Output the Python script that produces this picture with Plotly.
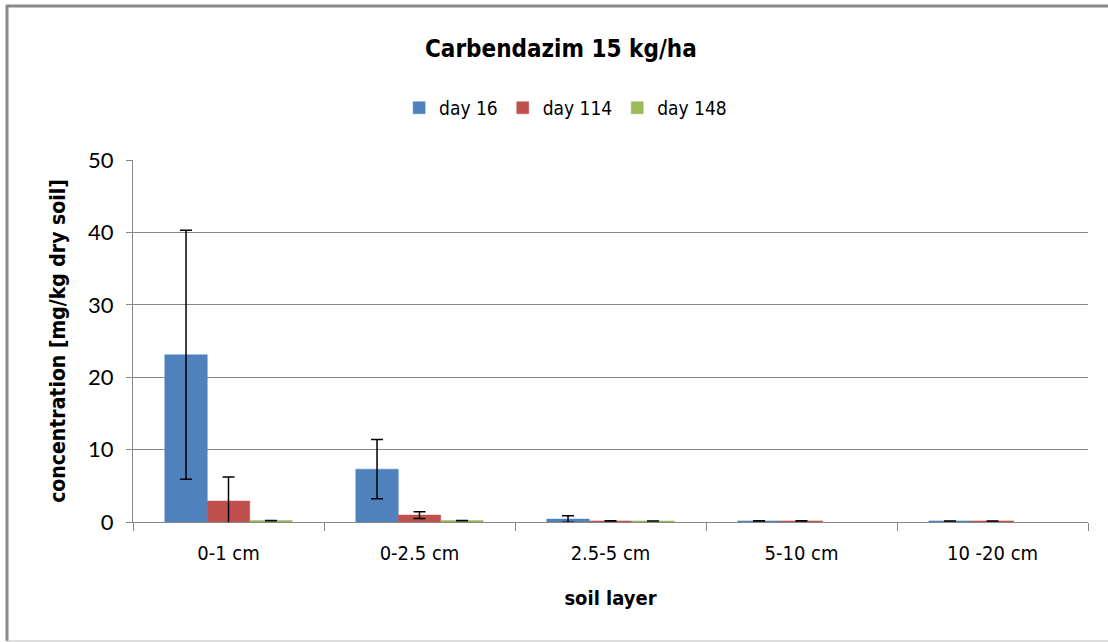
import plotly.graph_objects as go

# Soil layers sampled
layers = ["0-1 cm", "0-2.5 cm", "2.5-5 cm", "5-10 cm", "10 -20 cm"]

# Mean concentration [mg/kg dry soil] and standard deviation per sampling day
day16 = [23.1, 7.3, 0.4, 0.15, 0.15]
day16_sd = [17.2, 4.1, 0.45, 0.02, 0.0]
day114 = [2.9, 0.95, 0.15, 0.15, 0.15]
day114_sd = [3.3, 0.45, 0.02, 0.02, 0.0]
day148 = [0.2, 0.2, 0.15, None, None]
day148_sd = [0.02, 0.02, 0.0, None, None]

series = [
    ("day 16", day16, day16_sd, "#4F81BD"),
    ("day 114", day114, day114_sd, "#C0504D"),
    ("day 148", day148, day148_sd, "#9BBB59"),
]

COND = "DejaVu Sans Condensed, Liberation Sans Narrow, Roboto, sans-serif"
NUM = "Lato, Calibri, Open Sans, sans-serif"

fig = go.Figure()
for name, vals, sd, color in series:
    fig.add_trace(go.Bar(
        name=name, x=layers, y=vals,
        marker=dict(color=color, line=dict(color=color, width=0.5)),
        error_y=dict(type="data", array=sd, visible=True,
                     color="black", thickness=1.5, width=6),
    ))

fig.update_layout(
    width=1108, height=642,
    margin=dict(l=133, r=20, t=160, b=120),
    paper_bgcolor="white", plot_bgcolor="white",
    barmode="group", bargap=0.333, bargroupgap=0,
    title=dict(text="<b>Carbendazim 15 kg/ha</b>", x=0.448, xref="paper",
               xanchor="center", y=1 - 49 / 642, yref="container", yanchor="middle",
               font=dict(family=COND, size=24, color="#000")),
    legend=dict(orientation="h", x=0.453, xanchor="center", y=1.144, yanchor="middle",
                font=dict(family=COND, size=19, color="#000"),
                itemwidth=30, traceorder="normal"),
    showlegend=True,
)

fig.update_yaxes(
    range=[0, 50], dtick=10, showgrid=True, gridcolor="#878787", gridwidth=1,
    showline=True, linecolor="#878787", linewidth=1,
    ticks="outside", ticklen=6, tickcolor="#878787", ticklabelstandoff=8,
    tickfont=dict(family=NUM, size=22, color="#000"),
    zeroline=False,
    title=dict(text="<b>concentration [mg/kg dry soil]</b>",
               font=dict(family=COND, size=21, color="#000"), standoff=16),
)
fig.update_xaxes(
    showline=True, linecolor="#878787", linewidth=1,
    ticks="outside", tickson="boundaries", ticklen=8, tickcolor="#878787",
    ticklabelstandoff=13,
    tickfont=dict(family=COND, size=20, color="#000"),
    title=dict(text="<b>soil layer</b>",
               font=dict(family=COND, size=20, color="#000"), standoff=26),
)

# Chart frame
def px_x(p):
    return (p - 133) / (1108 - 133 - 20)

def px_y(p):
    return (642 - 120 - p) / (642 - 160 - 120)

fig.add_shape(type="line", xref="paper", yref="paper",
              x0=px_x(7), x1=px_x(7), y0=px_y(5), y1=px_y(641),
              line=dict(color="#8a8a8a", width=3))
fig.add_shape(type="line", xref="paper", yref="paper",
              x0=px_x(6), x1=px_x(1110), y0=px_y(6), y1=px_y(6),
              line=dict(color="#8a8a8a", width=3))
fig.add_shape(type="line", xref="paper", yref="paper",
              x0=px_x(6), x1=px_x(1110), y0=px_y(641), y1=px_y(641),
              line=dict(color="#bcbcbc", width=1))

fig.write_html("out.html")
